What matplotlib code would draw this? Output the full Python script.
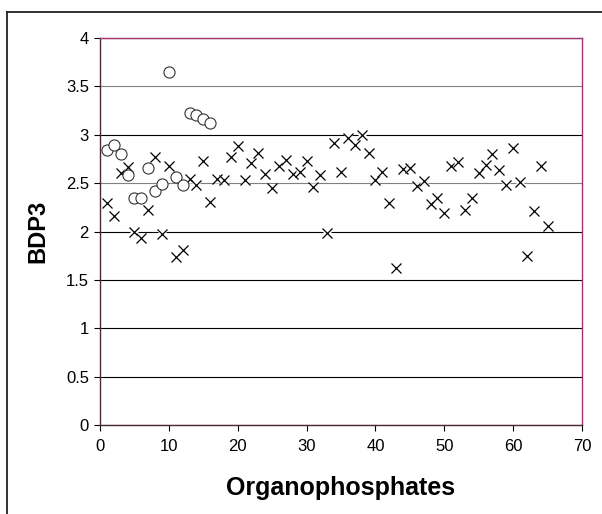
import numpy as np
import matplotlib
matplotlib.use('Agg')
import matplotlib.pyplot as plt
from matplotlib.lines import Line2D

plt.rcParams['font.family'] = ['Liberation Sans', 'DejaVu Sans']

# circle series (first 16 compounds)
circ_x = list(range(1, 17))
circ_y = [2.84, 2.89, 2.80, 2.58, 2.35, 2.35, 2.66, 2.42, 2.49, 3.65,
          2.56, 2.48, 3.22, 3.20, 3.16, 3.12]

# cross series
cross_x = list(range(1, 66))
cross_y = [2.29, 2.16, 2.60, 2.67, 1.99, 1.93, 2.22, 2.77, 1.97, 2.68,
           1.74, 1.81, 2.54, 2.48, 2.73, 2.31, 2.54, 2.53, 2.77, 2.88,
           2.53, 2.71, 2.81, 2.59, 2.45, 2.68, 2.74, 2.59, 2.61, 2.73,
           2.46, 2.58, 1.98, 2.91, 2.61, 2.97, 2.89, 3.00, 2.81, 2.53,
           2.61, 2.29, 1.62, 2.65, 2.66, 2.47, 2.52, 2.28, 2.35, 2.19,
           2.68, 2.72, 2.22, 2.35, 2.60, 2.69, 2.80, 2.64, 2.48, 2.86,
           2.51, 1.75, 2.21, 2.68, 2.06]

xticks = list(range(0, 71, 10))
yticks = [0, 0.5, 1, 1.5, 2, 2.5, 3, 3.5, 4]
ylabels = ['0', '0.5', '1', '1.5', '2', '2.5', '3', '3.5', '4']

fig = plt.figure(figsize=(6.02, 5.14), dpi=100)
ax = fig.add_axes([100/602, 89/514, 482/602, 387/514])

# crosses, each with a white square behind it
z = 4
for xv, yv in zip(cross_x, cross_y):
    ax.plot(xv, yv, marker='s', ms=6, mfc='white', mec='none',
            ls='none', zorder=z, clip_on=False)
    ax.plot(xv, yv, marker='x', ms=7, mew=0.9, color='black',
            ls='none', zorder=z + 0.5, clip_on=False)
    z += 1

ax.plot(circ_x, circ_y, marker='o', ms=8, mfc='white', mec='#333333',
        mew=0.8, ls='none', zorder=z + 1, clip_on=False)

ax.set_xlim(0, 70)
ax.set_ylim(0, 4)
ax.set_xticks(xticks)
ax.set_yticks(yticks)
ax.set_yticklabels(ylabels)
ax.tick_params(direction='out', length=4, width=0.8, color='black',
               labelsize=12)
ax.tick_params(axis='x', pad=6)
ax.tick_params(axis='y', pad=4)

ax.set_axisbelow(True)
ax.yaxis.grid(True, color='black', lw=0.8)
for yv, gl in zip(yticks, ax.yaxis.get_gridlines()):
    if yv in (2.5, 3.5):
        gl.set_color('#808080')

ax.spines['left'].set_color('#4a2b3c')
ax.spines['bottom'].set_color('#4a2b3c')
ax.spines['top'].set_color('#a3336e')
ax.spines['right'].set_color('#a3336e')
for s in ax.spines.values():
    s.set_linewidth(1.0)

ax.set_xlabel('Organophosphates', fontsize=18, fontweight='bold', labelpad=16)
ax.set_ylabel('BDP3', fontsize=17, fontweight='bold', labelpad=12)

# outer chart border (only top and left visible)
fig.add_artist(Line2D([7/602, 1.0], [502/514, 502/514], color='#222222', lw=1.3))
fig.add_artist(Line2D([7/602, 7/602], [0, 502/514], color='#222222', lw=1.3))

fig.savefig('out.png', dpi=100)
